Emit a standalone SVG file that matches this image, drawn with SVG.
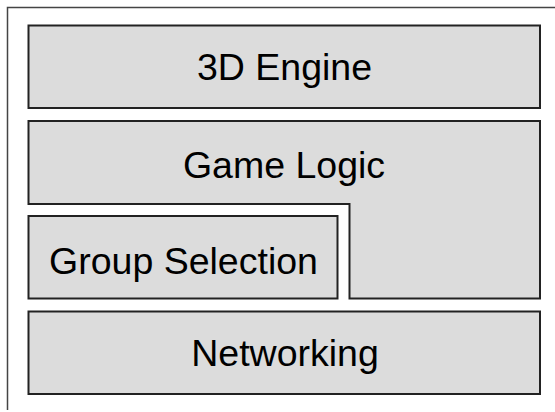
<svg xmlns="http://www.w3.org/2000/svg" width="555" height="412" viewBox="0 0 555 412">
<style>
.box{fill:#dcdcdc;stroke:#222;stroke-width:2;stroke-linejoin:miter}
.lbl{font-family:"Liberation Sans",Arial,sans-serif;font-size:37.5px;fill:#000;text-anchor:middle}
.frame{fill:none;stroke:#444;stroke-width:1.5}
</style>
<rect width="555" height="412" fill="#fff"/>
<path class="frame" d="M7.5,410 V7.5 H555"/>
<g id="engine">
<rect class="box" x="28.5" y="25.5" width="511.5" height="82.5"/>
<text class="lbl" x="284.5" y="80">3D Engine</text>
</g>
<g id="gamelogic">
<path class="box" d="M28.5,121 H540 V298.5 H349.5 V204 H28.5 Z"/>
<text class="lbl" x="284" y="178">Game Logic</text>
</g>
<g id="groupselection">
<rect class="box" x="28.5" y="216" width="309" height="82.5"/>
<text class="lbl" x="183.5" y="274">Group Selection</text>
</g>
<g id="networking">
<rect class="box" x="28.5" y="311.5" width="511.5" height="82.5"/>
<text class="lbl" x="285" y="366">Networking</text>
</g>
<g id="connectors"></g>
</svg>
